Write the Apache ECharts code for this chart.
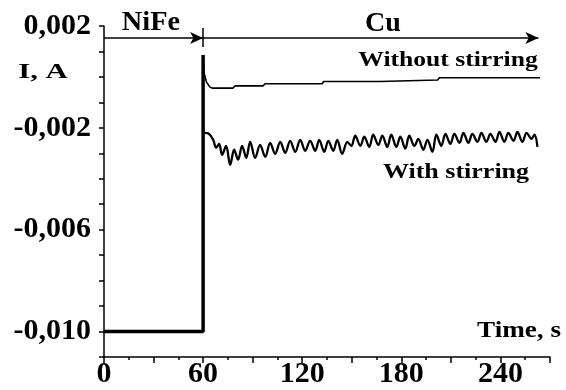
<!DOCTYPE html>
<html>
<head>
<meta charset="utf-8">
<script src="https://cdn.jsdelivr.net/npm/echarts@6/dist/echarts.min.js"></script>
<style>
  html, body { margin: 0; padding: 0; background: #fff; }
  #chart { width: 566px; height: 390px; }
</style>
</head>
<body>
<div id="chart"></div>
<script>
// tick labels
const xLabelValues = [0, 60, 120, 180, 240];
const yLabelValues = [0.002, -0.002, -0.006, -0.010];

// NiFe deposition step, then the jump at 60 s
const nifeTime = [0, 60, 60];
const nifeCurrent = [-0.010, -0.010, 0.00086];

// Cu, without stirring
const plainTime = [60, 60.6, 62, 64, 65.5, 78, 79.4, 96.4, 97.5, 132, 133, 167, 168, 202, 203, 264];
const plainCurrent = [0.86e-3, 0.16e-3, -0.20e-3, -0.39e-3, -0.44e-3, -0.44e-3, -0.35e-3, -0.35e-3,
  -0.27e-3, -0.27e-3, -0.18e-3, -0.18e-3, -0.12e-3, -0.12e-3, -0.03e-3, -0.03e-3];

// Cu, with stirring
const stirTime = [60, 61.2, 63.6, 66.1, 67.9, 69.7, 71.5, 73.9, 76.4, 78.8, 81.2, 83.6, 86.1, 88.5,
  91.5, 94.5, 97.6, 100.6, 103.6, 106.7, 109.7, 112.7, 115.8, 118.8, 121.8, 124.8, 127.9, 130.3,
  133.3, 135.8, 138.8, 141.2, 144.2, 147.3, 149.7, 152.1, 155.2, 157.6, 160.6, 163.0, 166.1, 168.5,
  171.5, 173.9, 177.0, 179.4, 182.4, 184.8, 187.9, 190.3, 193.3, 195.8, 198.8, 201.2, 204.2, 206.7,
  209.7, 212.1, 215.2, 217.6, 220.6, 223.0, 226.1, 228.5, 231.5, 233.9, 237.0, 239.4, 242.4, 244.8,
  247.9, 250.3, 253.3, 255.8, 258.8, 260.6, 262.4];
const stirCurrent = [-2.20e-3, -2.20e-3, -2.24e-3, -2.47e-3, -2.78e-3, -2.63e-3, -3.06e-3, -2.71e-3,
  -3.45e-3, -2.86e-3, -3.25e-3, -2.71e-3, -3.18e-3, -2.55e-3, -3.18e-3, -2.67e-3, -3.14e-3, -2.59e-3,
  -3.02e-3, -2.55e-3, -2.98e-3, -2.51e-3, -2.94e-3, -2.47e-3, -2.90e-3, -2.51e-3, -2.90e-3, -2.47e-3,
  -2.94e-3, -2.51e-3, -2.90e-3, -2.47e-3, -3.02e-3, -2.55e-3, -2.71e-3, -2.31e-3, -2.71e-3, -2.35e-3,
  -2.75e-3, -2.27e-3, -2.67e-3, -2.31e-3, -2.75e-3, -2.27e-3, -2.75e-3, -2.35e-3, -2.82e-3, -2.31e-3,
  -2.71e-3, -2.43e-3, -2.86e-3, -2.47e-3, -2.94e-3, -2.27e-3, -2.71e-3, -2.24e-3, -2.63e-3, -2.24e-3,
  -2.59e-3, -2.20e-3, -2.59e-3, -2.24e-3, -2.55e-3, -2.20e-3, -2.55e-3, -2.24e-3, -2.55e-3, -2.16e-3,
  -2.55e-3, -2.20e-3, -2.51e-3, -2.16e-3, -2.55e-3, -2.20e-3, -2.43e-3, -2.27e-3, -2.75e-3];

// stage arrows along the top
const stageArrowLevel = 0.00153;
const stageBounds = [0, 60, 263];

const zip = (a, b) => a.map((v, i) => [v, b[i]]);
const serif = '"Liberation Serif", "Times New Roman", serif';

function label(text, x, y, size, sx) {
  return {
    type: 'text', x: x, y: y, scaleX: sx || 1, silent: true,
    style: {
      text: text, x: 0, y: 0, fill: '#000',
      font: 'bold ' + size + 'px ' + serif,
      align: 'center', verticalAlign: 'middle',
      textAlign: 'center', textVerticalAlign: 'middle'
    }
  };
}

const chart = echarts.init(document.getElementById('chart'));

chart.setOption({
  animation: false,
  backgroundColor: '#fff',
  grid: { left: 104, right: 16, top: 26, bottom: 33, containLabel: false },
  xAxis: {
    type: 'value', min: 0, max: 270, interval: 30,
    axisLine: { show: true, onZero: false, lineStyle: { color: '#000', width: 1.5 } },
    axisTick: { show: true, length: 6, lineStyle: { color: '#000', width: 1.5 } },
    minorTick: { show: true, splitNumber: 2, length: 3, lineStyle: { color: '#000', width: 1.5 } },
    splitLine: { show: false },
    axisLabel: {
      interval: 0, margin: 2, color: '#000', fontFamily: serif, fontWeight: 'bold', fontSize: 30,
      formatter: v => xLabelValues.indexOf(Math.round(v)) >= 0 ? String(Math.round(v)) : ''
    }
  },
  yAxis: {
    type: 'value', min: -0.011, max: 0.002, interval: 0.001,
    axisLine: { show: true, onZero: false, lineStyle: { color: '#000', width: 1.5 } },
    axisTick: { show: true, length: 5, lineStyle: { color: '#000', width: 1.5 } },
    splitLine: { show: false },
    axisLabel: {
      interval: 0, margin: 13, color: '#000', fontFamily: serif, fontWeight: 'bold', fontSize: 30,
      formatter: v => {
        const k = Math.round(v * 1000);
        const hit = yLabelValues.some(y => Math.round(y * 1000) === k);
        return hit ? (k / 1000).toFixed(3).replace('.', ',') : '';
      }
    }
  },
  series: [
    {
      name: 'NiFe', type: 'line', symbol: 'none', silent: true,
      lineStyle: { color: '#000', width: 3.5 },
      data: zip(nifeTime, nifeCurrent),
      markLine: {
        silent: true, symbol: ['none', 'arrow'], symbolSize: [9, 13],
        label: { show: false },
        lineStyle: { color: '#000', width: 1.5, type: 'solid' },
        data: [
          [{ coord: [stageBounds[0], stageArrowLevel] }, { coord: [stageBounds[1], stageArrowLevel] }],
          [{ coord: [stageBounds[1], stageArrowLevel] }, { coord: [stageBounds[2], stageArrowLevel] }],
          [{ coord: [stageBounds[1], 0.00192], symbol: 'none' }, { coord: [stageBounds[1], 0.00118], symbol: 'none' }]
        ]
      }
    },
    {
      name: 'Without stirring', type: 'line', symbol: 'none', silent: true,
      lineStyle: { color: '#000', width: 1.6 },
      data: zip(plainTime, plainCurrent)
    },
    {
      name: 'With stirring', type: 'line', symbol: 'none', silent: true, smooth: 0.35,
      lineStyle: { color: '#000', width: 2.3 },
      data: zip(stirTime, stirCurrent)
    }
  ],
  graphic: [
    label('NiFe', 151, 23, 27, 1.05),
    label('Cu', 383, 24, 28, 1),
    label('I, A', 43, 72, 22, 1.4),
    label('Time, s', 519, 331, 23, 1.18),
    label('Without stirring', 448, 61, 20, 1.28),
    label('With stirring', 456, 173, 20, 1.3)
  ]
});
</script>
</body>
</html>
